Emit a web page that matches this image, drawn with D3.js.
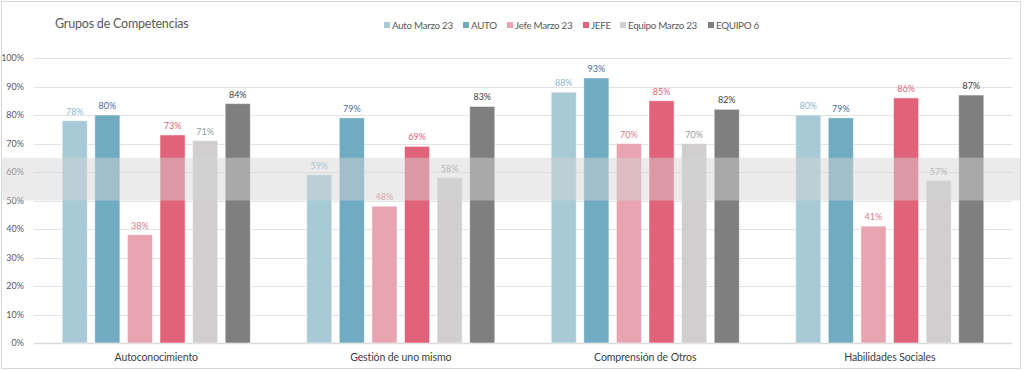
<!DOCTYPE html>
<html>
<head>
<meta charset="utf-8">
<script src="https://cdn.jsdelivr.net/npm/d3@7"></script>
<style>
  body { margin: 0; background: #fff; }
  svg { font-family: Lato, "Open Sans", sans-serif; }
</style>
</head>
<body>
<svg id="chart" width="1024" height="371"></svg>
<script>
  // chart data
  const categories = ['Autoconocimiento', 'Gestión de uno mismo', 'Comprensión de Otros', 'Habilidades Sociales']
  const seriesNames = ['Auto Marzo 23', 'AUTO', 'Jefe Marzo 23', 'JEFE', 'Equipo Marzo 23', 'EQUIPO 6']
  const autoMarzo = [78, 59, 88, 80]
  const auto = [80, 79, 93, 79]
  const jefeMarzo = [38, 48, 70, 41]
  const jefe = [73, 69, 85, 86]
  const equipoMarzo = [71, 58, 70, 57]
  const equipo6 = [84, 83, 82, 87]
  const yTicks = [0, 10, 20, 30, 40, 50, 60, 70, 80, 90, 100]
  const bandRange = [50, 65]

  const seriesValues = [autoMarzo, auto, jefeMarzo, jefe, equipoMarzo, equipo6]
  const barColors = ['#a8cad6', '#70abc2', '#e8a5b1', '#e0637a', '#d0cece', '#7f7f7f']
  const labelColors = ['#8db8cc', '#4a6b9c', '#e0788e', '#de5f78', '#9a9a9a', '#404040']

  const rows = categories.map((c, i) => ({
    cat: c,
    vals: seriesNames.map((s, j) => ({ series: s, idx: j, value: seriesValues[j][i] }))
  }))

  const margin = { top: 58, right: 12, bottom: 28, left: 34 }
  const W = 1024, H = 371
  const svg = d3.select('#chart')

  // outer frame
  svg.append('rect')
    .attr('x', 1.5).attr('y', 1.5)
    .attr('width', 1019).attr('height', 367)
    .attr('fill', '#fff').attr('stroke', '#d9d9d9')

  const x0 = d3.scaleBand()
    .domain(categories)
    .range([margin.left, W - margin.right])
    .paddingInner(0.2)
    .paddingOuter(0.1)

  const x1 = d3.scaleBand()
    .domain(seriesNames)
    .range([0, x0.bandwidth()])
    .paddingInner(0.23)
    .paddingOuter(0.115)

  const y = d3.scaleLinear()
    .domain([0, 100])
    .range([343, 58])

  // grid lines
  svg.append('g')
    .selectAll('line')
    .data(yTicks)
    .join('line')
    .attr('x1', margin.left).attr('x2', W - margin.right)
    .attr('y1', d => Math.round(y(d)) + 0.5).attr('y2', d => Math.round(y(d)) + 0.5)
    .attr('stroke', d => d === 0 ? '#d9d9d9' : '#e3e3e3')
    .attr('stroke-width', d => d === 0 ? 1.5 : 1)

  // y axis labels
  const yAxis = svg.append('g')
    .attr('transform', `translate(${margin.left - 7},0)`)
    .call(d3.axisLeft(y).tickValues(yTicks).tickFormat(d => d + '%').tickSize(0))
  yAxis.select('.domain').remove()
  yAxis.selectAll('text')
    .attr('fill', '#595959')
    .attr('font-size', 9)
    .attr('font-family', 'Lato, sans-serif')
    .attr('dx', 0)

  // bars
  const groups = svg.append('g')
    .selectAll('g')
    .data(rows)
    .join('g')
    .attr('transform', d => `translate(${x0(d.cat)},0)`)

  groups.selectAll('rect')
    .data(d => d.vals)
    .join('rect')
    .attr('x', d => x1(d.series))
    .attr('y', d => y(d.value))
    .attr('width', x1.bandwidth())
    .attr('height', d => y(0) - y(d.value))
    .attr('fill', d => barColors[d.idx])
    .attr('stroke', '#fff')
    .attr('stroke-opacity', 0.5)
    .attr('stroke-width', 1)

  groups.selectAll('text')
    .data(d => d.vals)
    .join('text')
    .attr('x', d => x1(d.series) + x1.bandwidth() / 2)
    .attr('y', d => y(d.value) - 6)
    .attr('text-anchor', 'middle')
    .attr('font-size', 9)
    .attr('fill', d => labelColors[d.idx])
    .text(d => d.value + '%')

  // highlight band drawn over the bars
  svg.append('rect')
    .attr('x', 2).attr('width', 1018)
    .attr('y', y(bandRange[1]))
    .attr('height', y(bandRange[0]) - y(bandRange[1]))
    .attr('fill', '#d6d6d6')
    .attr('opacity', 0.48)

  // category labels
  svg.append('g')
    .selectAll('text')
    .data(categories)
    .join('text')
    .attr('x', d => x0(d) + x0.bandwidth() / 2)
    .attr('y', 361)
    .attr('text-anchor', 'middle')
    .attr('font-size', 10.5)
    .attr('letter-spacing', -0.1)
    .attr('fill', '#404040')
    .text(d => d)

  // title
  svg.append('text')
    .attr('x', 55).attr('y', 28)
    .attr('font-size', 12.5)
    .attr('letter-spacing', -0.2)
    .attr('fill', '#595959')
    .text('Grupos de Competencias')

  // legend
  const legendX = [384, 463, 507, 583, 620, 708]
  const legend = svg.append('g')
    .selectAll('g')
    .data(seriesNames)
    .join('g')
    .attr('transform', (d, i) => `translate(${legendX[i]},22)`)
  legend.append('rect')
    .attr('width', 6).attr('height', 6)
    .attr('fill', (d, i) => barColors[i])
  legend.append('text')
    .attr('x', 8).attr('y', 7)
    .attr('font-size', 9.8)
    .attr('letter-spacing', -0.3)
    .attr('fill', '#595959')
    .text(d => d)
</script>
</body>
</html>
